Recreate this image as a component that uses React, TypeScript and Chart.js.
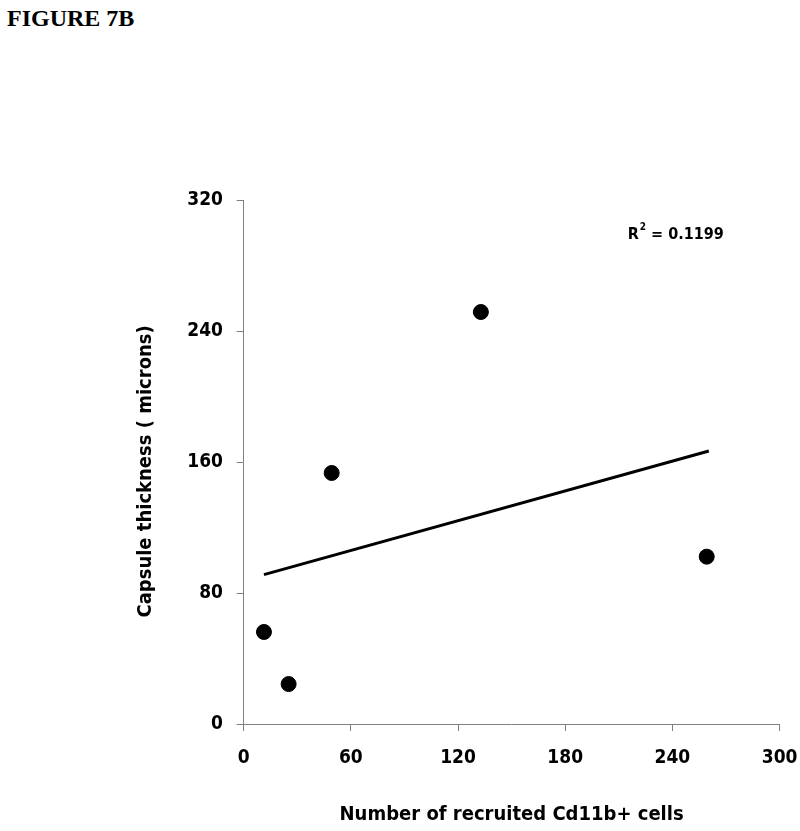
import React, { useEffect, useRef } from "react";
import { Chart, registerables } from "chart.js";

Chart.register(...registerables);

// Data
const cellCounts = [11.4, 25.2, 49.3, 132.8, 259.2];
const capsuleThickness = [56.2, 24.4, 153.3, 251.6, 102.2];
const trendX = [11.4, 260.4];
const trendY = [91.2, 166.7];
const xTicks = [0, 60, 120, 180, 240, 300];
const yTicks = [0, 80, 160, 240, 320];
const rSquaredLabel = "0.1199";
const rSquaredPos = { x: 215, y: 298.6 };

const FONT = "'Liberation Sans Narrow', 'DejaVu Sans Condensed', 'Arial Narrow', sans-serif";

const r2Plugin = {
  id: "r2label",
  afterDatasetsDraw(chart: any) {
    const { ctx, scales } = chart;
    const px = scales.x.getPixelForValue(rSquaredPos.x);
    const py = scales.y.getPixelForValue(rSquaredPos.y);
    ctx.save();
    ctx.fillStyle = "#000";
    ctx.textBaseline = "middle";
    ctx.textAlign = "left";
    ctx.font = `bold 16px ${FONT}`;
    ctx.fillText("R", px, py);
    const rw = ctx.measureText("R").width;
    ctx.font = `bold 10px ${FONT}`;
    ctx.fillText("2", px + rw + 1, py - 8);
    const sw = ctx.measureText("2").width;
    ctx.font = `bold 16px ${FONT}`;
    ctx.fillText(" = " + rSquaredLabel, px + rw + sw + 1, py);
    ctx.restore();
  },
};

export default function App() {
  const ref = useRef<HTMLCanvasElement | null>(null);

  useEffect(() => {
    if (!ref.current) return;
    const chart = new Chart(ref.current, {
      type: "scatter",
      data: {
        datasets: [
          {
            label: "Capsule thickness",
            data: cellCounts.map((x, i) => ({ x, y: capsuleThickness[i] })),
            backgroundColor: "#000",
            borderColor: "#000",
            pointRadius: 7.5,
            pointHoverRadius: 7.5,
            order: 1,
          },
          {
            type: "line",
            label: "Trend",
            data: trendX.map((x, i) => ({ x, y: trendY[i] })),
            borderColor: "#000",
            borderWidth: 3,
            pointRadius: 0,
            fill: false,
            order: 2,
          } as any,
        ],
      },
      options: {
        animation: false,
        responsive: false,
        maintainAspectRatio: false,
        layout: { padding: { left: 0, right: 20.4, top: 200, bottom: 0 } },
        plugins: {
          legend: { display: false },
          tooltip: { enabled: false },
        },
        scales: {
          x: {
            type: "linear",
            min: 0,
            max: 300,
            afterBuildTicks: (s: any) => {
              s.ticks = xTicks.map((v) => ({ value: v }));
            },
            afterFit: (s: any) => {
              s.height = 107;
              s.paddingLeft = 0;
              s.paddingRight = 0;
            },
            ticks: {
              color: "#000",
              padding: 15.6,
              font: { family: FONT, size: 19, weight: "bold" },
            },
            grid: {
              display: true,
              drawOnChartArea: false,
              drawTicks: true,
              tickLength: 7,
              color: "#808080",
            },
            border: { color: "#808080", width: 1 },
            title: {
              display: true,
              text: "Number of recruited Cd11b+ cells",
              color: "#000",
              font: { family: FONT, size: 20, weight: "bold" },
              padding: { top: 0, bottom: 4 },
            },
          },
          y: {
            type: "linear",
            min: 0,
            max: 320,
            afterBuildTicks: (s: any) => {
              s.ticks = yTicks.map((v) => ({ value: v }));
            },
            afterFit: (s: any) => {
              s.width = 243.6;
              s.paddingTop = 0;
              s.paddingBottom = 0;
            },
            ticks: {
              color: "#000",
              padding: 13.6,
              font: { family: FONT, size: 19, weight: "bold" },
            },
            grid: {
              display: true,
              drawOnChartArea: false,
              drawTicks: true,
              tickLength: 7,
              color: "#808080",
            },
            border: { color: "#808080", width: 1 },
            title: {
              display: true,
              text: "Capsule thickness ( microns)\u00a0\u00a0\u00a0",
              color: "#000",
              font: { family: FONT, size: 20, weight: "bold" },
              padding: { top: 134, bottom: 0 },
            },
          },
        },
      },
      plugins: [r2Plugin],
    });
    return () => chart.destroy();
  }, []);

  return (
    <div style={{ position: "fixed", left: 0, top: 0, width: 800, height: 831, background: "#fff" }}>
      <div
        style={{
          position: "absolute",
          left: 7,
          top: 3,
          fontFamily: "'Liberation Serif', 'Times New Roman', serif",
          fontWeight: "bold",
          fontSize: 24,
          lineHeight: "30px",
          color: "#000",
        }}
      >
        FIGURE 7B
      </div>
      <canvas ref={ref} width={800} height={831} style={{ position: "absolute", left: 0, top: 0 }} />
    </div>
  );
}
